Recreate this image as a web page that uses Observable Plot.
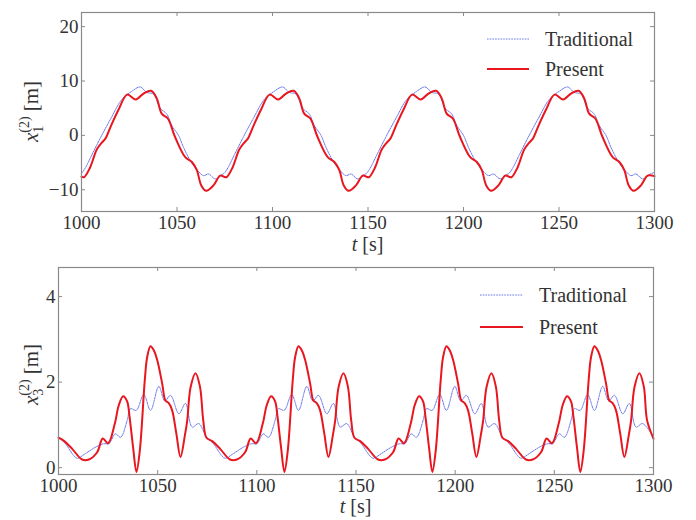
<!DOCTYPE html>
<html><head><meta charset="utf-8">
<script src="https://cdn.jsdelivr.net/npm/d3@7"></script>
<script src="https://cdn.jsdelivr.net/npm/@observablehq/plot@0.6"></script>
<style>
body{margin:0;background:#fff}
#chart{width:696px}
#chart svg{display:block}
#chart svg text{font-family:'Liberation Serif','DejaVu Serif',serif !important}
</style>
</head><body><div id="chart"></div>
<script>
const xTicks = [1000, 1050, 1100, 1150, 1200, 1250, 1300];
const topYTicks = [-10, 0, 10, 20];
const botYTicks = [0, 2, 4];
const seriesNames = ["Traditional", "Present"];

// x1(2): Present
const presTopT = [1000.0,1001.3,1004.5,1008.0,1010.5,1012.5,1015.5,1019.5,1023.9,1028.4,1032.5,1036.5,1039.4,1042.0,1045.2,1049.0,1054.3,1057.8,1060.4,1062.7,1065.3,1069.1,1072.6,
1074.6,1075.9,1079.1,1082.6,1085.1,1087.1,1090.1,1094.1,1098.5,1103.0,1107.1,1111.1,1114.0,1116.6,1119.8,1123.6,1128.9,1132.4,1135.0,1137.3,1139.9,1143.7,1147.2,
1149.2,1150.5,1153.7,1157.2,1159.7,1161.7,1164.7,1168.7,1173.1,1177.6,1181.7,1185.7,1188.6,1191.2,1194.4,1198.2,1203.5,1207.0,1209.6,1211.9,1214.5,1218.3,1221.8,
1223.8,1225.1,1228.3,1231.8,1234.3,1236.3,1239.3,1243.3,1247.7,1252.2,1256.3,1260.3,1263.2,1265.8,1269.0,1272.8,1278.1,1281.6,1284.2,1286.5,1289.1,1292.9,1296.4,1300.0];
const presTopV = [-7.6,-7.7,-5.9,-2.6,-1.4,-0.6,1.8,4.8,7.5,6.6,7.7,8.2,6.8,4.0,3.1,-0.3,-4.0,-4.9,-6.4,-9.2,-10.2,-9.2,-7.4,
-7.6,-7.7,-5.9,-2.6,-1.4,-0.6,1.8,4.8,7.5,6.6,7.7,8.2,6.8,4.0,3.1,-0.3,-4.0,-4.9,-6.4,-9.2,-10.2,-9.2,-7.4,
-7.6,-7.7,-5.9,-2.6,-1.4,-0.6,1.8,4.8,7.5,6.6,7.7,8.2,6.8,4.0,3.1,-0.3,-4.0,-4.9,-6.4,-9.2,-10.2,-9.2,-7.4,
-7.6,-7.7,-5.9,-2.6,-1.4,-0.6,1.8,4.8,7.5,6.6,7.7,8.2,6.8,4.0,3.1,-0.3,-4.0,-4.9,-6.4,-9.2,-10.2,-9.2,-7.4,-7.5];

// x1(2): Traditional
const tradTopT = [1000.0,1002.0,1005.4,1010.0,1015.5,1021.1,1026.3,1030.7,1034.2,1037.7,1041.2,1044.7,1047.3,1050.8,1053.4,1056.9,1060.4,1063.9,1066.5,1070.0,1073.5,
1074.6,1076.6,1080.0,1084.6,1090.1,1095.7,1100.9,1105.3,1108.8,1112.3,1115.8,1119.3,1121.9,1125.4,1128.0,1131.5,1135.0,1138.5,1141.1,1144.6,1148.1,
1149.2,1151.2,1154.6,1159.2,1164.7,1170.3,1175.5,1179.9,1183.4,1186.9,1190.4,1193.9,1196.5,1200.0,1202.6,1206.1,1209.6,1213.1,1215.7,1219.2,1222.7,
1223.8,1225.8,1229.2,1233.8,1239.3,1244.9,1250.1,1254.5,1258.0,1261.5,1265.0,1268.5,1271.1,1274.6,1277.2,1280.7,1284.2,1287.7,1290.3,1293.8,1297.3,1300.0];
const tradTopV = [-7.0,-6.0,-3.6,-0.4,3.2,6.6,8.1,8.9,7.9,7.6,5.0,3.9,1.8,0.0,-2.2,-4.6,-6.3,-7.4,-7.1,-8.0,-7.2,
-7.0,-6.0,-3.6,-0.4,3.2,6.6,8.1,8.9,7.9,7.6,5.0,3.9,1.8,0.0,-2.2,-4.6,-6.3,-7.4,-7.1,-8.0,-7.2,
-7.0,-6.0,-3.6,-0.4,3.2,6.6,8.1,8.9,7.9,7.6,5.0,3.9,1.8,0.0,-2.2,-4.6,-6.3,-7.4,-7.1,-8.0,-7.2,
-7.0,-6.0,-3.6,-0.4,3.2,6.6,8.1,8.9,7.9,7.6,5.0,3.9,1.8,0.0,-2.2,-4.6,-6.3,-7.4,-7.1,-8.0,-7.2,-6.8];

// x3(2): Present
const presBotT = [1000.0,1002.9,1006.9,1011.9,1015.3,1019.5,1022.3,1025.0,1028.4,1030.4,1032.6,1034.6,1035.8,1037.6,1039.3,1041.0,1043.5,1044.7,1046.4,1048.1,1049.8,1052.3,1053.9,1055.6,1057.3,1059.4,1061.5,1063.7,1064.9,1066.6,1069.1,1071.3,1073.0,
1074.6,1077.5,1081.5,1086.5,1089.9,1094.1,1096.9,1099.6,1103.0,1105.0,1107.2,1109.2,1110.4,1112.2,1113.9,1115.6,1118.1,1119.3,1121.0,1122.7,1124.4,1126.9,1128.5,1130.2,1131.9,1134.0,1136.1,1138.3,1139.5,1141.2,1143.7,1145.9,1147.6,
1149.2,1152.1,1156.1,1161.1,1164.5,1168.7,1171.5,1174.2,1177.6,1179.6,1181.8,1183.8,1185.0,1186.8,1188.5,1190.2,1192.7,1193.9,1195.6,1197.3,1199.0,1201.5,1203.1,1204.8,1206.5,1208.6,1210.7,1212.9,1214.1,1215.8,1218.3,1220.5,1222.2,
1223.8,1226.7,1230.7,1235.7,1239.1,1243.3,1246.1,1248.8,1252.2,1254.2,1256.4,1258.4,1259.6,1261.4,1263.1,1264.8,1267.3,1268.5,1270.2,1271.9,1273.6,1276.1,1277.7,1279.4,1281.1,1283.2,1285.3,1287.5,1288.7,1290.4,1292.9,1295.1,1296.8,1300.0];
const presBotV = [0.70,0.62,0.44,0.19,0.19,0.36,0.68,0.57,1.03,1.46,1.67,1.55,1.20,0.48,-0.10,0.40,2.04,2.58,2.84,2.74,2.51,1.96,1.57,1.51,1.34,0.80,0.25,0.75,1.10,1.88,2.21,1.90,1.10,
0.70,0.62,0.44,0.19,0.19,0.36,0.68,0.57,1.03,1.46,1.67,1.55,1.20,0.48,-0.10,0.40,2.04,2.58,2.84,2.74,2.51,1.96,1.57,1.51,1.34,0.80,0.25,0.75,1.10,1.88,2.21,1.90,1.10,
0.70,0.62,0.44,0.19,0.19,0.36,0.68,0.57,1.03,1.46,1.67,1.55,1.20,0.48,-0.10,0.40,2.04,2.58,2.84,2.74,2.51,1.96,1.57,1.51,1.34,0.80,0.25,0.75,1.10,1.88,2.21,1.90,1.10,
0.70,0.62,0.44,0.19,0.19,0.36,0.68,0.57,1.03,1.46,1.67,1.55,1.20,0.48,-0.10,0.40,2.04,2.58,2.84,2.74,2.51,1.96,1.57,1.51,1.34,0.80,0.25,0.75,1.10,1.88,2.21,1.90,1.10,0.68];

// x3(2): Traditional
const tradBotT = [1000.0,1003.5,1007.7,1009.5,1013.6,1018.7,1022.8,1025.4,1028.7,1031.3,1034.6,1036.3,1039.2,1043.0,1046.4,1050.6,1053.6,1056.5,1060.7,1064.0,1067.4,1070.7,
1074.6,1078.1,1082.3,1084.1,1088.2,1093.3,1097.4,1100.0,1103.3,1105.9,1109.2,1110.9,1113.8,1117.6,1121.0,1125.2,1128.2,1131.1,1135.3,1138.6,1142.0,1145.3,
1149.2,1152.7,1156.9,1158.7,1162.8,1167.9,1172.0,1174.6,1177.9,1180.5,1183.8,1185.5,1188.4,1192.2,1195.6,1199.8,1202.8,1205.7,1209.9,1213.2,1216.6,1219.9,
1223.8,1227.3,1231.5,1233.3,1237.4,1242.5,1246.6,1249.2,1252.5,1255.1,1258.4,1260.1,1263.0,1266.8,1270.2,1274.4,1277.4,1280.3,1284.5,1287.8,1291.2,1294.5,1300.0];
const tradBotV = [0.72,0.56,0.28,0.22,0.33,0.48,0.56,0.56,0.79,0.71,1.10,1.38,1.34,1.71,1.34,1.90,1.56,1.69,1.26,1.50,0.95,1.03,
0.72,0.56,0.28,0.22,0.33,0.48,0.56,0.56,0.79,0.71,1.10,1.38,1.34,1.71,1.34,1.90,1.56,1.69,1.26,1.50,0.95,1.03,
0.72,0.56,0.28,0.22,0.33,0.48,0.56,0.56,0.79,0.71,1.10,1.38,1.34,1.71,1.34,1.90,1.56,1.69,1.26,1.50,0.95,1.03,
0.72,0.56,0.28,0.22,0.33,0.48,0.56,0.56,0.79,0.71,1.10,1.38,1.34,1.71,1.34,1.90,1.56,1.69,1.26,1.50,0.95,1.03,0.72];

const RED = "#e8161e", BLUE = "#5a68e6", FRAME = "#8a8a8a", INK = "#333";
const FONT = "Liberation Serif";
const toRows = (T, V) => T.map((t, i) => ({t, v: V[i]}));

function panel({trad, pres, yDomain, yTicks, height, mt, mb, ml, mr, sub, legend, yLabelShift}) {
  const W = 696, fh = height - mt - mb, fw = W - ml - mr, tl = 4;
  const svg = Plot.plot({
    width: W, height, marginTop: mt, marginBottom: mb, marginLeft: ml, marginRight: mr,
    style: {fontFamily: FONT, fontSize: "19px", color: INK, background: "#fff"},
    x: {domain: [1000, 1300]},
    y: {domain: yDomain},
    marks: [
      Plot.axisX(xTicks, {tickSize: 0, tickPadding: 4, tickFormat: d3.format("d"), label: null, fontSize: 19, fontFamily: FONT}),
      Plot.axisY(yTicks, {tickSize: 0, tickPadding: 3, tickFormat: d3.format("d"), label: null, fontSize: 19, fontFamily: FONT}),
      Plot.line(trad, {x: "t", y: "v", curve: "catmull-rom", stroke: BLUE, strokeWidth: 0.9, strokeDasharray: "1.6,1.1"}),
      Plot.line(pres, {x: "t", y: "v", curve: "catmull-rom", stroke: RED, strokeWidth: 2}),
      Plot.tickX(xTicks, {x: d => d, insetTop: fh - tl, stroke: FRAME}),
      Plot.tickX(xTicks, {x: d => d, insetBottom: fh - tl, stroke: FRAME}),
      Plot.tickY(yTicks, {y: d => d, insetRight: fw - tl, stroke: FRAME}),
      Plot.tickY(yTicks, {y: d => d, insetLeft: fw - tl, stroke: FRAME}),
      Plot.frame({stroke: FRAME, strokeWidth: 1.2})
    ]
  });
  const s = d3.select(svg);
  // x label: t [s]
  const xl = s.append("text").attr("x", ml + fw / 2).attr("y", height - 7)
    .attr("text-anchor", "middle").attr("fill", INK).style("font-size", "20px");
  xl.append("tspan").attr("font-style", "italic").text("t");
  xl.append("tspan").text(" [s]");
  // y label: x_sub^(2) [m]
  const yl = s.append("text").attr("text-anchor", "middle").attr("fill", INK).style("font-size", "21px")
    .attr("transform", `translate(38,${mt + fh / 2 + yLabelShift}) rotate(-90)`);
  yl.append("tspan").attr("font-style", "italic").text("x");
  yl.append("tspan").attr("dy", 5).style("font-size", "14px").text(sub);
  yl.append("tspan").attr("dx", -7).attr("dy", -14).style("font-size", "14px").text("(2)");
  yl.append("tspan").attr("dy", 9).text(" [m]");
  // legend
  const [lx0, lx1, ly0, ly1, tx] = legend;
  s.append("line").attr("x1", lx0).attr("x2", lx1).attr("y1", ly0).attr("y2", ly0)
    .attr("stroke", BLUE).attr("stroke-width", 0.9).attr("stroke-dasharray", "1.6,1.1");
  s.append("line").attr("x1", lx0).attr("x2", lx1).attr("y1", ly1).attr("y2", ly1)
    .attr("stroke", RED).attr("stroke-width", 2);
  s.append("text").attr("x", tx).attr("y", ly0 + 7).attr("text-anchor", "start").attr("fill", INK)
    .style("font-size", "20px").text(seriesNames[0]);
  s.append("text").attr("x", tx).attr("y", ly1 + 7).attr("text-anchor", "start").attr("fill", INK)
    .style("font-size", "20px").text(seriesNames[1]);
  return svg;
}

const root = document.getElementById("chart");
root.append(panel({
  trad: toRows(tradTopT, tradTopV), pres: toRows(presTopT, presTopV),
  yDomain: [-14, 22.6], yTicks: topYTicks, height: 258, mt: 12, mb: 47, ml: 81, mr: 42,
  sub: "1", legend: [487, 529, 39, 69, 545], yLabelShift: 0
}));
root.append(panel({
  trad: toRows(tradBotT, tradBotV), pres: toRows(presBotT, presBotV),
  yDomain: [-0.16, 4.68], yTicks: botYTicks, height: 262, mt: 9, mb: 46, ml: 58, mr: 43,
  sub: "3", legend: [480, 523, 37, 69, 539], yLabelShift: 4
}));
</script></body></html>
